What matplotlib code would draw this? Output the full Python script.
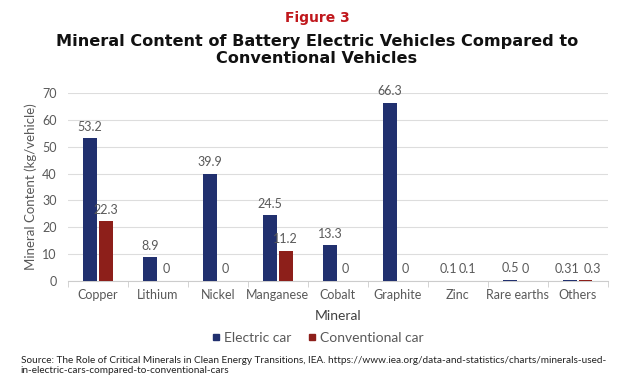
import numpy as np
import matplotlib
matplotlib.use("Agg")
import matplotlib.pyplot as plt
from matplotlib.lines import Line2D

plt.rcParams.update({"font.family": ["Lato", "DejaVu Sans"]})

minerals = ["Copper", "Lithium", "Nickel", "Manganese", "Cobalt",
            "Graphite", "Zinc", "Rare earths", "Others"]
electric = [53.2, 8.9, 39.9, 24.5, 13.3, 66.3, 0.1, 0.5, 0.31]
conventional = [22.3, 0, 0, 11.2, 0, 0, 0.1, 0, 0.3]
electric_lbl = ["53.2", "8.9", "39.9", "24.5", "13.3", "66.3", "0.1", "0.5", "0.31"]
conventional_lbl = ["22.3", "0", "0", "11.2", "0", "0", "0.1", "0", "0.3"]

BLUE = "#21306f"
RED = "#8d1f1a"
GREY = "#595959"

fig = plt.figure(figsize=(6.24, 3.8), dpi=100)
ax = fig.add_axes([0.109, 0.2605, 0.865, 0.4945])

x = np.arange(len(minerals))
w = 0.23
b1 = ax.bar(x - w / 2 - 0.015, electric, w, color=BLUE, zorder=3)
b2 = ax.bar(x + w / 2 + 0.015, conventional, w, color=RED, zorder=3)
t1 = ax.bar_label(b1, labels=electric_lbl, padding=4, fontsize=9, color=GREY)
t2 = ax.bar_label(b2, labels=conventional_lbl, padding=4, fontsize=9, color=GREY)
# nudge the crowded small-value labels apart a little
t1[6].xyann = (-1.5, 4)
t2[6].xyann = (1.5, 4)
t1[-1].xyann = (-2, 4)
t2[-1].xyann = (5, 4)

ax.set_xlim(-0.5, len(minerals) - 0.5)
ax.set_ylim(0, 70)
ax.set_yticks(range(0, 71, 10))
ax.yaxis.grid(True, color="#dddddd", linewidth=0.8, zorder=0)
for s in ["top", "right", "left"]:
    ax.spines[s].set_visible(False)
ax.spines["bottom"].set_color("#cccccc")

ax.set_xticks(x)
ax.set_xticklabels(minerals, fontsize=9, color=GREY)
ax.set_xticks(np.arange(-0.5, len(minerals), 1), minor=True)
ax.tick_params(axis="x", which="major", length=0, pad=6)
ax.tick_params(axis="x", which="minor", length=4, color="#cccccc")
ax.tick_params(axis="y", length=0, labelsize=9, labelcolor=GREY, pad=8)

ax.set_xlabel("Mineral", fontsize=10, color="#404040", labelpad=6)
ax.set_ylabel("Mineral Content (kg/vehicle)", fontsize=9.5, color=GREY, labelpad=4)

fig.text(0.508, 0.952, "Figure 3", ha="center", va="center", fontsize=10,
         fontweight="bold", color="#c0171c", family=["DejaVu Sans"])
fig.text(0.508, 0.868, "Mineral Content of Battery Electric Vehicles Compared to\nConventional Vehicles",
         ha="center", va="center", fontsize=11.65, fontweight="bold", color="#111111",
         linespacing=1.15, family=["DejaVu Sans"])

handles = [Line2D([], [], marker="s", linestyle="", color=BLUE, markersize=5),
           Line2D([], [], marker="s", linestyle="", color=RED, markersize=5)]
fig.legend(handles, ["Electric car", "Conventional car"], loc="center",
           bbox_to_anchor=(0.51, 0.11), ncol=2, frameon=False, fontsize=10,
           labelcolor=GREY, handlelength=0.5, handletextpad=0.36,
           columnspacing=1.2)

fig.text(0.033, 0.012,
         "Source: The Role of Critical Minerals in Clean Energy Transitions, IEA. "
         "https://www.iea.org/data-and-statistics/charts/minerals-used-\n"
         "in-electric-cars-compared-to-conventional-cars",
         ha="left", va="bottom", fontsize=7.2, color="#222222", linespacing=1.2)

fig.savefig("out.png", dpi=100)
